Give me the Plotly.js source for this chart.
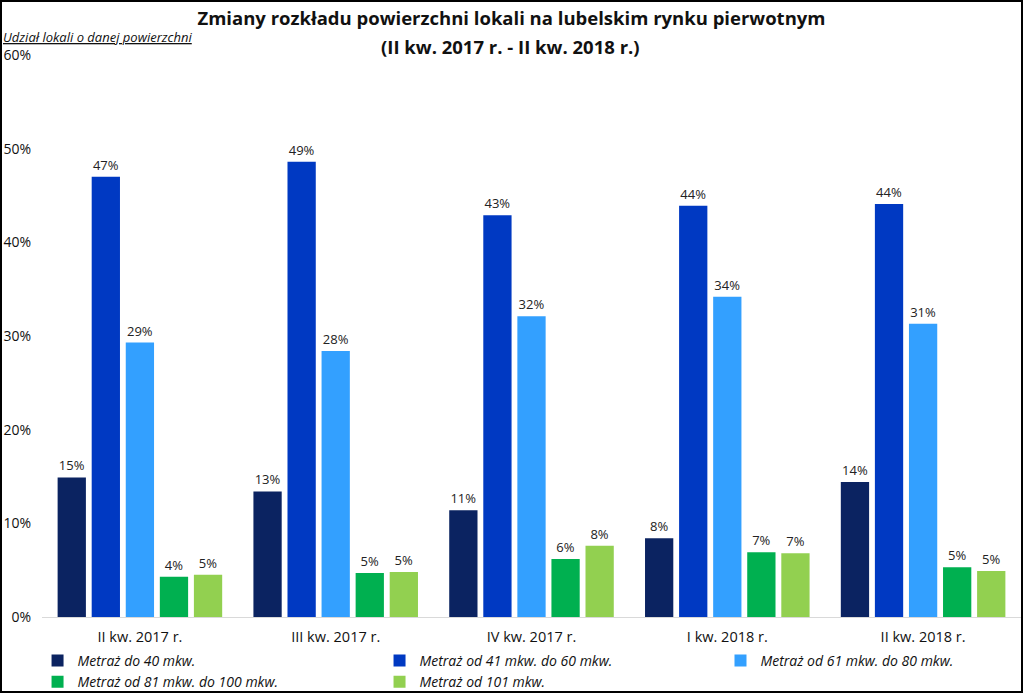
<!DOCTYPE html>
<html>
<head>
<meta charset="utf-8">
<script src="https://cdn.plot.ly/plotly-3.0.1.min.js"></script>
<style>
html,body{margin:0;padding:0;background:#fff;}
#wrap{position:relative;width:1023px;height:693px;}
#chart{width:1023px;height:693px;}
#frame{position:absolute;left:0;top:0;width:1023px;height:693px;box-sizing:border-box;border:2px solid #000;pointer-events:none;}
</style>
</head>
<body>
<div id="wrap"><div id="chart"></div><div id="frame"></div></div>
<script>
const categories = ["II kw. 2017 r.", "III kw. 2017 r.", "IV kw. 2017 r.", "I kw. 2018 r.", "II kw. 2018 r."];
const seriesNames = ["Metraż do 40 mkw.", "Metraż od 41 mkw. do 60 mkw.", "Metraż od 61 mkw. do 80 mkw.", "Metraż od 81 mkw. do 100 mkw.", "Metraż od 101 mkw."];
const upTo40 = [14.9, 13.4, 11.4, 8.4, 14.4];
const from41to60 = [47.0, 48.6, 42.9, 43.9, 44.1];
const from61to80 = [29.3, 28.4, 32.1, 34.2, 31.3];
const from81to100 = [4.3, 4.7, 6.2, 6.9, 5.3];
const from101 = [4.5, 4.8, 7.6, 6.8, 4.9];
const seriesValues = [upTo40, from41to60, from61to80, from81to100, from101];
const colors = ["#0b2361", "#0039c2", "#33a0ff", "#00b050", "#92d050"];
const legendColumn = ["legend", "legend2", "legend3", "legend", "legend2"];
const yTickVals = [0, 10, 20, 30, 40, 50, 60];
const yTickText = ["0%", "10%", "20%", "30%", "40%", "50%", "60%"];
const titleLine1 = "Zmiany rozkładu powierzchni lokali na lubelskim rynku pierwotnym";
const titleLine2 = "(II kw. 2017 r. - II kw. 2018 r.)";
const yTitle = "Udział lokali o danej powierzchni";

const font = "'Open Sans', 'Noto Sans', sans-serif";

const traces = seriesValues.map((vals, i) => ({
  type: 'bar',
  name: '<i>' + seriesNames[i] + '</i>',
  legend: legendColumn[i],
  x: categories,
  y: vals,
  marker: {color: colors[i]},
  texttemplate: '%{y:.0f}%',
  textposition: 'outside',
  cliponaxis: false,
  textfont: {family: font, size: 13, color: '#222'},
  hoverinfo: 'skip'
}));

function legendAt(xc) {
  return {
    orientation: 'v', xref: 'container', x: xc, xanchor: 'left',
    yref: 'container', y: 0.0695, yanchor: 'top',
    traceorder: 'normal', tracegroupgap: 0, itemwidth: 30,
    bgcolor: 'rgba(0,0,0,0)',
    font: {family: font, size: 14, color: '#111'}
  };
}

const layout = {
  width: 1023, height: 693,
  margin: {l: 42, r: 2, t: 55, b: 76, autoexpand: false},
  paper_bgcolor: '#fff', plot_bgcolor: '#fff',
  font: {family: font, color: '#111'},
  barmode: 'group',
  bargap: 0.13,
  bargroupgap: 0.17,
  title: {
    text: '<b>' + titleLine1 + '</b>',
    font: {family: font, size: 18.5, color: '#111'},
    x: 0.5, xref: 'container', xanchor: 'center',
    y: 1 - 19 / 693, yref: 'container', yanchor: 'middle'
  },
  xaxis: {
    showgrid: false, showline: false, ticks: '', ticklabelstandoff: 9,
    tickfont: {family: font, size: 14.5, color: '#111'}
  },
  yaxis: {
    range: [0, 60], tickvals: yTickVals, ticktext: yTickText,
    showgrid: false, zeroline: true, zerolinecolor: '#d9d9d9', zerolinewidth: 1,
    showline: false, ticks: '', ticklabelstandoff: 10,
    tickfont: {family: font, size: 14, color: '#111'}
  },
  showlegend: true,
  legend: legendAt(0.0367),
  legend2: legendAt(0.371),
  legend3: legendAt(0.7043),
  annotations: [{
    text: '<b>' + titleLine2 + '</b>',
    xref: 'paper', yref: 'paper', x: 0.479, y: 1 + (55 - 46) / 562,
    xanchor: 'center', yanchor: 'middle',
    showarrow: false, font: {family: font, size: 18.5, color: '#111'}
  }, {
    text: '<i><u>' + yTitle + '</u></i>',
    xref: 'paper', yref: 'paper', x: -0.042, y: 1.0, xanchor: 'left', yanchor: 'bottom',
    yshift: 7,
    showarrow: false, font: {family: font, size: 13, color: '#111'}
  }]
};

Plotly.newPlot('chart', traces, layout, {displayModeBar: false, staticPlot: true});
</script>
</body>
</html>
